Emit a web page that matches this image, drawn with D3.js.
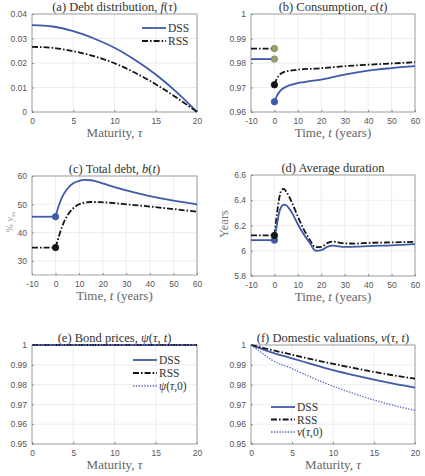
<!DOCTYPE html>
<html><head><meta charset="utf-8">
<script src="https://cdn.jsdelivr.net/npm/d3@7"></script>
<style>
body{margin:0;background:#fff;}
svg{display:block;}
</style></head>
<body><svg id="c" width="425" height="476"></svg>
<script>
// ---------- DATA ----------
// (a) Debt distribution
const tauA = [0, 2.5, 5, 7.5, 10, 12.5, 15, 17.5, 20];
const fDSS = [0.0355, 0.0349, 0.0330, 0.0300, 0.0262, 0.0212, 0.0153, 0.0082, 0.0];
const fRSS = [0.0266, 0.0262, 0.0248, 0.0228, 0.0199, 0.0160, 0.0113, 0.0059, 0.0];

// shared time grid after the shock
const tPre = [-10, 0];
const tPost = [0, 1, 2, 3, 5, 7.5, 10, 12.5, 15, 17.5, 20, 25, 30, 40, 50, 60];

// (b) Consumption
const cPreDSS = [0.9816, 0.9816];
const cPreRSS = [0.9859, 0.9859];
const cDSS = [0.9642, 0.9665, 0.9680, 0.9691, 0.9703, 0.9712, 0.9718, 0.9722, 0.9726, 0.9729, 0.9732, 0.9742, 0.9753, 0.9769, 0.9779, 0.9787];
const cRSS = [0.9711, 0.9735, 0.9750, 0.9758, 0.9766, 0.9770, 0.9773, 0.9775, 0.9776, 0.9777, 0.9779, 0.9783, 0.9787, 0.9793, 0.9798, 0.9803];

// (c) Total debt, % of y_ss
const bPreDSS = [45.6, 45.6];
const bPreRSS = [34.7, 34.7];
const bDSS = [45.6, 48.6, 51.0, 52.9, 55.5, 57.4, 58.3, 58.6, 58.5, 58.0, 57.4, 56.1, 54.9, 52.9, 51.3, 50.0];
const bRSS = [34.7, 37.5, 40.3, 42.6, 46.0, 48.6, 50.0, 50.6, 50.8, 50.8, 50.7, 50.4, 50.0, 49.2, 48.3, 47.4];

// (d) Average duration
const tDur = [0, 1, 2, 3, 4, 5, 7.5, 10, 12.5, 15, 17.5, 20, 22.5, 25, 30, 35, 40, 50, 60];
const dPreDSS = [6.084, 6.084];
const dPreRSS = [6.121, 6.121];
const dDSS = [6.084, 6.20, 6.30, 6.35, 6.366, 6.36, 6.30, 6.21, 6.13, 6.065, 6.00, 6.005, 6.03, 6.040, 6.030, 6.032, 6.037, 6.043, 6.052];
const dRSS = [6.121, 6.28, 6.41, 6.48, 6.49, 6.47, 6.38, 6.27, 6.17, 6.09, 6.028, 6.03, 6.06, 6.072, 6.058, 6.057, 6.062, 6.066, 6.070];

// (e) Bond prices
const tauE = [0, 20];
const psiDSS = [1, 1];
const psiRSS = [1, 1];
const psi0 = [1, 1];

// (f) Domestic valuations
const tauF = [0, 1, 2.5, 5, 7.5, 10, 12.5, 15, 17.5, 20];
const vDSS = [1, 0.9985, 0.9963, 0.9933, 0.9902, 0.9873, 0.9848, 0.9825, 0.9804, 0.9785];
const vRSS = [1, 0.9990, 0.9975, 0.9951, 0.9927, 0.9905, 0.9884, 0.9864, 0.9846, 0.9830];
const v0   = [1, 0.9970, 0.9925, 0.9881, 0.9834, 0.9792, 0.9755, 0.9722, 0.9694, 0.9670];

// ticks
const ticksMat = [0, 5, 10, 15, 20];
const ticksTime = [-10, 0, 10, 20, 30, 40, 50, 60];
const ticksA = [0, 0.01, 0.02, 0.03, 0.04];
const ticksB = [0.96, 0.97, 0.98, 0.99, 1];
const ticksC = [30, 40, 50, 60];
const ticksD = [5.8, 6, 6.2, 6.4, 6.6];
const ticksEF = [0.95, 0.96, 0.97, 0.98, 0.99, 1];

// ---------- STYLE ----------
const BLUE = "#3f5aa8", BLACK = "#151515", DOT = "#5a69c2", OLIVE = "#95a26a";
const DASHDOT = "6,2,1.6,2";
const svg = d3.select("#c");
const fmt = d => String(+d.toFixed(4));

function panel(o) {
  const xs = d3.scaleLinear().domain(o.xdom).range([o.x0, o.x1]);
  const ys = d3.scaleLinear().domain(o.ydom).range([o.y1, o.y0]);
  const g = svg.append("g");
  g.selectAll(".gx").data(o.xt).join("line")
    .attr("x1", d => xs(d)).attr("x2", d => xs(d)).attr("y1", o.y0).attr("y2", o.y1)
    .attr("stroke", "#e8e8e8").attr("stroke-width", 0.8);
  g.selectAll(".gy").data(o.yt).join("line")
    .attr("y1", d => ys(d)).attr("y2", d => ys(d)).attr("x1", o.x0).attr("x2", o.x1)
    .attr("stroke", "#e8e8e8").attr("stroke-width", 0.8);
  const ax = g.append("g").attr("transform", `translate(0,${o.y1})`)
    .call(d3.axisBottom(xs).tickValues(o.xt).tickFormat(fmt).tickSizeInner(-2).tickSizeOuter(0).tickPadding(6));
  const ay = g.append("g").attr("transform", `translate(${o.x0},0)`)
    .call(d3.axisLeft(ys).tickValues(o.yt).tickFormat(fmt).tickSizeInner(-2).tickSizeOuter(0).tickPadding(5));
  [ax, ay].forEach(a => {
    a.select(".domain").remove();
    a.selectAll("line").attr("stroke", "#8a8a8a");
    a.selectAll("text").attr("fill", "#555").attr("font-family", "Liberation Sans, Arial, sans-serif").attr("font-size", 8.5);
  });
  g.append("rect").attr("x", o.x0).attr("y", o.y0).attr("width", o.x1 - o.x0).attr("height", o.y1 - o.y0)
    .attr("fill", "none").attr("stroke", "#8f8f8f").attr("stroke-width", 0.8);
  g.append("text").attr("x", (o.x0 + o.x1) / 2).attr("y", o.y0 - 3).attr("text-anchor", "middle")
    .attr("font-family", "Liberation Serif, serif").attr("font-size", 12.5).attr("fill", "#333").html(o.title);
  g.append("text").attr("x", (o.x0 + o.x1) / 2).attr("y", o.y1 + 25).attr("text-anchor", "middle")
    .attr("font-family", "Liberation Serif, serif").attr("font-size", 13).attr("fill", "#666").html(o.xlabel);
  return {g, xs, ys};
}

function line(p, xv, yv, color, dash, w) {
  const gen = d3.line().x(d => p.xs(d[0])).y(d => p.ys(d[1])).curve(d3.curveMonotoneX);
  p.g.append("path").datum(xv.map((x, i) => [x, yv[i]])).attr("d", gen)
    .attr("fill", "none").attr("stroke", color).attr("stroke-width", w || 1.8)
    .attr("stroke-dasharray", dash || null);
}
function marker(p, x, y, fill, stroke) {
  p.g.append("circle").attr("cx", p.xs(x)).attr("cy", p.ys(y)).attr("r", 3.2)
    .attr("fill", fill).attr("stroke", stroke || fill).attr("stroke-width", 0.8);
}
function legend(p, x, y, items) {
  items.forEach((it, i) => {
    const yy = y + i * it.dy;
    p.g.append("line").attr("x1", x).attr("x2", x + 24).attr("y1", yy).attr("y2", yy)
      .attr("stroke", it.color).attr("stroke-width", it.w || 1.8).attr("stroke-dasharray", it.dash || null);
    p.g.append("text").attr("x", x + 26).attr("y", yy + 4).attr("font-family", "Liberation Serif, serif")
      .attr("font-size", 11.5).attr("fill", "#333").html(it.label);
  });
}

// ---------- PANELS ----------
const L1 = 32, R1 = 197, L2 = 251, R2 = 415;

// (a)
const pa = panel({x0: L1, x1: R1, y0: 14, y1: 112, xdom: [0, 20], ydom: [0, 0.04], xt: ticksMat, yt: ticksA,
  title: "(a) Debt distribution, <tspan font-style='italic'>f</tspan>(<tspan font-style='italic'>τ</tspan>)",
  xlabel: "Maturity, <tspan font-style='italic'>τ</tspan>"});
line(pa, tauA, fDSS, BLUE);
line(pa, tauA, fRSS, BLACK, DASHDOT);
legend(pa, 142, 28, [{label: "DSS", color: BLUE, dy: 13}, {label: "RSS", color: BLACK, dash: DASHDOT, dy: 13}]);

// (b)
const pb = panel({x0: L2, x1: R2, y0: 14, y1: 112, xdom: [-10, 60], ydom: [0.96, 1], xt: ticksTime, yt: ticksB,
  title: "(b) Consumption, <tspan font-style='italic'>c</tspan>(<tspan font-style='italic'>t</tspan>)",
  xlabel: "Time, <tspan font-style='italic'>t</tspan> (years)"});
line(pb, tPre, cPreRSS, BLACK, DASHDOT);
line(pb, tPre, cPreDSS, BLUE);
line(pb, tPost, cRSS, BLACK, DASHDOT);
line(pb, tPost, cDSS, BLUE);
marker(pb, 0, cPreRSS[1], OLIVE, "#7d8a55");
marker(pb, 0, cPreDSS[1], OLIVE, "#7d8a55");
marker(pb, 0, cRSS[0], BLACK);
marker(pb, 0, cDSS[0], BLUE);

// (c)
const pc = panel({x0: L1, x1: R1, y0: 176, y1: 275, xdom: [-10, 60], ydom: [25, 60], xt: ticksTime, yt: ticksC,
  title: "(c) Total debt, <tspan font-style='italic'>b</tspan>(<tspan font-style='italic'>t</tspan>)",
  xlabel: "Time, <tspan font-style='italic'>t</tspan> (years)"});
line(pc, tPre, bPreDSS, BLUE);
line(pc, tPre, bPreRSS, BLACK, DASHDOT);
line(pc, tPost, bDSS, BLUE);
line(pc, tPost, bRSS, BLACK, DASHDOT);
marker(pc, 0, bPreDSS[1], BLUE);
marker(pc, 0, bPreRSS[1], BLACK);
pc.g.append("text").attr("transform", "translate(13,222) rotate(-90)").attr("text-anchor", "middle")
  .attr("font-family", "Liberation Serif, serif").attr("font-size", 10).attr("fill", "#999")
  .html("% <tspan font-style='italic'>y</tspan><tspan font-style='italic' font-size='7' dy='2'>ss</tspan>");

// (d)
const pd = panel({x0: L2, x1: R2, y0: 175, y1: 276, xdom: [-10, 60], ydom: [5.8, 6.6], xt: ticksTime, yt: ticksD,
  title: "(d) Average duration",
  xlabel: "Time, <tspan font-style='italic'>t</tspan> (years)"});
line(pd, tPre, dPreRSS, BLACK, DASHDOT);
line(pd, tPre, dPreDSS, BLUE);
line(pd, tDur, dRSS, BLACK, DASHDOT);
line(pd, tDur, dDSS, BLUE);
marker(pd, 0, dPreDSS[1], BLUE);
marker(pd, 0, dPreRSS[1], BLACK);
pd.g.append("text").attr("transform", "translate(228,224) rotate(-90)").attr("text-anchor", "middle")
  .attr("font-family", "Liberation Serif, serif").attr("font-size", 12.5).attr("fill", "#777").text("Years");

// (e)
const pe = panel({x0: L1, x1: R1, y0: 345, y1: 444, xdom: [0, 20], ydom: [0.95, 1], xt: ticksMat, yt: ticksEF,
  title: "(e) Bond prices, <tspan font-style='italic'>ψ</tspan>(<tspan font-style='italic'>τ</tspan>, <tspan font-style='italic'>t</tspan>)",
  xlabel: "Maturity, <tspan font-style='italic'>τ</tspan>"});
line(pe, tauE, psiDSS, BLUE);
line(pe, tauE, psiRSS, BLACK, DASHDOT);
line(pe, tauE, psi0, DOT, "1.4,1.4", 1.3);
legend(pe, 133, 360, [
  {label: "DSS", color: BLUE, dy: 13},
  {label: "RSS", color: BLACK, dash: DASHDOT, dy: 13},
  {label: "<tspan font-style='italic'>ψ</tspan>(<tspan font-style='italic'>τ</tspan>,0)", color: DOT, dash: "1.4,1.4", w: 1.3, dy: 13}]);

// (f)
const pf = panel({x0: L2, x1: R2, y0: 345, y1: 444, xdom: [0, 20], ydom: [0.95, 1], xt: ticksMat, yt: ticksEF,
  title: "(f) Domestic valuations, <tspan font-style='italic'>v</tspan>(<tspan font-style='italic'>τ</tspan>, <tspan font-style='italic'>t</tspan>)",
  xlabel: "Maturity, <tspan font-style='italic'>τ</tspan>"});
line(pf, tauF, vDSS, BLUE);
line(pf, tauF, vRSS, BLACK, DASHDOT);
line(pf, tauF, v0, DOT, "1.4,1.4", 1.3);
legend(pf, 271, 407, [
  {label: "DSS", color: BLUE, dy: 12.5},
  {label: "RSS", color: BLACK, dash: DASHDOT, dy: 12.5},
  {label: "<tspan font-style='italic'>v</tspan>(<tspan font-style='italic'>τ</tspan>,0)", color: DOT, dash: "1.4,1.4", w: 1.3, dy: 12.5}]);
</script></body></html>
